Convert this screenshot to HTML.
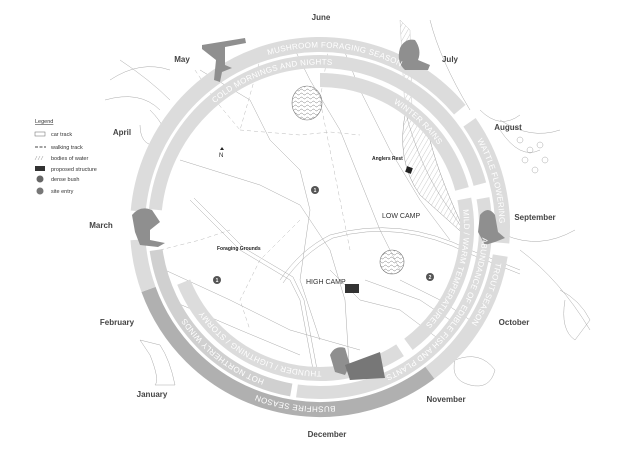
<!DOCTYPE html>
<html><head><meta charset="utf-8"><style>
html,body{margin:0;padding:0;background:#fff;}
svg{display:block;font-family:"Liberation Sans",sans-serif;}
.m{font-size:8px;fill:#444;font-weight:bold;}
.r{font-size:8px;fill:#fff;letter-spacing:0.3px;}
.lg{font-size:5.5px;fill:#333;}
.ln{fill:none;stroke:#aaa;stroke-width:0.5;}
.ds{fill:none;stroke:#bbb;stroke-width:0.5;stroke-dasharray:4 3;}
</style></head><body>
<svg id="s" width="640" height="453" viewBox="0 0 640 453">
<defs>
<pattern id="h" width="6" height="4" patternUnits="userSpaceOnUse"><path d="M0 2 Q1.5 0 3 2 T6 2" fill="none" stroke="#777" stroke-width="0.5"/></pattern>
<pattern id="d" width="4" height="4" patternUnits="userSpaceOnUse" patternTransform="rotate(30)"><line x1="0" y1="0" x2="0" y2="4" stroke="#999" stroke-width="0.5"/></pattern>
</defs>
<g>
<path class="ln" d="M180 160 L260 185 L300 205 L330 250 L345 300 L350 380"/>
<path class="ln" d="M200 70 L250 100 L270 140 L300 170 L310 210 L300 280 L320 340"/>
<path class="ln" d="M290 40 L310 80 L340 130 L360 180 L380 230 L400 270"/>
<path class="ln" d="M340 40 L360 90 L390 150 L420 200 L450 240"/>
<path class="ln" d="M165 270 L230 300 L290 330 L360 350"/>
<path class="ln" d="M170 300 L240 330 L300 355"/>
<path class="ln" d="M330 270 L360 300 L400 310 L440 340"/>
<path class="ln" d="M365 280 L420 300 L450 320"/>
<path class="ln" d="M400 280 L440 300 L470 320"/>
<path class="ln" d="M190 200 L240 250 L290 280 L300 300 L315 380"/>
<path class="ln" d="M194 198 L244 248 L293 277 L304 300 L319 380"/>
<path class="ln" d="M280 280 Q300 250 330 235 Q400 215 470 250 L520 270"/>
<path class="ln" d="M283 283 Q303 253 333 238 Q400 219 470 254 L520 274"/>
<path class="ds" d="M240 130 L300 135 L330 132 L360 135"/>
<path class="ds" d="M195 70 L215 100 L240 130 L260 60"/>
<path class="ds" d="M160 250 L200 240 L230 230"/>
<path class="ds" d="M300 220 L260 260 L240 300 L250 330"/>
<path class="ds" d="M330 40 L320 100 L330 150 L350 250"/>
<path class="ln" d="M405 110 Q420 170 450 210 L470 240"/>
<path d="M406 110 Q395 160 420 195 L468 238 Q440 180 430 140 Z" fill="url(#d)" stroke="#999" stroke-width="0.5"/>
<path d="M400 20 L410 30 L412 110 L405 110 Z" fill="url(#d)" stroke="#bbb" stroke-width="0.4"/>
<ellipse cx="307" cy="103" rx="15" ry="17" fill="url(#h)" stroke="#777" stroke-width="0.6"/>
<circle cx="392" cy="262" r="12" fill="url(#h)" stroke="#777" stroke-width="0.6"/>
<rect x="345" y="284" width="14" height="9" fill="#333"/>
<rect x="406" y="167" width="6" height="6" fill="#222" transform="rotate(20 409 170)"/>
</g>
<g fill="none" stroke="#aaa" stroke-width="0.5">
<path d="M110 80 Q140 60 170 70 M105 100 Q140 90 160 110 M120 60 Q150 80 170 100 M150 110 Q170 130 165 145 Q140 150 140 125"/>
<path d="M480 110 Q500 130 520 115 M500 120 Q530 140 560 130 M500 130 Q520 160 540 150"/>
<path d="M505 235 Q540 250 575 230 M520 250 Q560 280 590 330 M560 290 Q580 300 590 320 L575 340 Q560 330 565 300"/>
<path d="M455 360 Q480 350 495 370 Q490 390 470 385 Q450 380 455 360"/>
<path d="M140 340 L150 355 Q160 380 155 385 L175 385 Q170 360 160 345 Z"/>
<path d="M430 20 Q440 60 470 110"/>
</g>
<g fill="none" stroke="#aaa" stroke-width="0.5">
<circle cx="520" cy="140" r="3"/><circle cx="530" cy="150" r="3"/><circle cx="540" cy="145" r="3"/><circle cx="525" cy="160" r="3"/><circle cx="545" cy="160" r="3"/><circle cx="535" cy="170" r="3"/>
</g>
<g id="rings"></g>
<g fill="#8f8f8f">
<path d="M202 45 L245 38 L246 43 L225 47 L225 65 L232 68 L222 72 L220 82 L214 80 L216 60 L202 49Z"/>
<path d="M400 48 Q405 38 415 40 Q422 50 418 60 L430 65 L428 70 L405 70 Q396 62 400 48Z"/>
<path d="M132 215 Q140 205 152 210 L160 222 L150 230 L150 240 L165 243 L158 247 L140 245 L135 232Z"/>
<path d="M480 215 Q488 205 495 215 L498 232 L505 238 L495 242 L485 245 L478 232Z"/>
<path d="M330 355 Q335 345 345 348 L350 365 L345 375 L335 372Z"/>
<path d="M345 365 L380 352 L385 378 L350 380Z" fill="#777"/>
</g>
<g class="r">
<text><textPath href="#t1" startOffset="50%" text-anchor="middle">MUSHROOM FORAGING SEASON</textPath></text>
<text><textPath href="#t2" startOffset="50%" text-anchor="middle">COLD MORNINGS AND NIGHTS</textPath></text>
<text><textPath href="#t3" startOffset="50%" text-anchor="middle">WINTER RAINS</textPath></text>
<text><textPath href="#t4" startOffset="50%" text-anchor="middle">WATTLE FLOWERING</textPath></text>
<text><textPath href="#t5" startOffset="50%" text-anchor="middle">TROUT SEASON</textPath></text>
<text><textPath href="#t6" startOffset="50%" text-anchor="middle">ABUNDANCE OF EDIBLE FISH AND PLANTS</textPath></text>
<text><textPath href="#t7" startOffset="50%" text-anchor="middle">MILD / WARM TEMPERATURES</textPath></text>
<text><textPath href="#t8" startOffset="50%" text-anchor="middle">BUSHFIRE SEASON</textPath></text>
<text><textPath href="#t9" startOffset="50%" text-anchor="middle">HOT NORTHERLY WINDS</textPath></text>
<text><textPath href="#t10" startOffset="50%" text-anchor="middle">THUNDER / LIGHTNING / STORMY</textPath></text>
</g>
<g class="m" text-anchor="middle">
<text x="321" y="20">June</text><text x="450" y="62">July</text><text x="508" y="130">August</text>
<text x="535" y="220">September</text><text x="514" y="325">October</text><text x="446" y="402">November</text>
<text x="327" y="437">December</text><text x="152" y="397">January</text><text x="117" y="325">February</text>
<text x="101" y="228">March</text><text x="122" y="135">April</text><text x="182" y="62">May</text>
</g>
<g font-size="5px" fill="#222">
<text x="372" y="160" font-weight="bold">Anglers Rest</text>
<text x="217" y="250" font-weight="bold">Foraging Grounds</text>
<text x="382" y="218" font-size="7px" fill="#333">LOW CAMP</text>
<text x="306" y="284" font-size="7px" fill="#333">HIGH CAMP</text>
<text x="219" y="157" font-size="6px">N</text>
</g>
<path d="M220 150 L222 147 L224 150Z" fill="#222"/>
<g fill="#555"><circle cx="315" cy="190" r="4"/><circle cx="217" cy="280" r="4"/><circle cx="430" cy="277" r="4"/></g>
<g font-size="5px" fill="#fff" text-anchor="middle" font-weight="bold"><text x="315" y="192">1</text><text x="217" y="282">1</text><text x="430" y="279">2</text></g>
<g class="lg">
<text x="35" y="123" text-decoration="underline">Legend</text>
<rect x="35" y="132" width="10" height="4" fill="none" stroke="#666" stroke-width="0.5"/><text x="51" y="136">car track</text>
<line x1="35" y1="147" x2="46" y2="147" stroke="#444" stroke-dasharray="3 1.5"/><text x="51" y="149">walking track</text>
<path d="M35 160 L37 156 M38 160 L40 156 M41 160 L43 156" stroke="#999" stroke-width="0.5"/><text x="51" y="160">bodies of water</text>
<rect x="35" y="166" width="10" height="5" fill="#333"/><text x="51" y="171">proposed structure</text>
<circle cx="40" cy="179" r="3.5" fill="#666"/><text x="51" y="181">dense bush</text>
<circle cx="40" cy="191" r="3.5" fill="#777"/><text x="51" y="193">site entry</text>
</g>
</svg>
<script>
var cx=320,cy=227,NS="http://www.w3.org/2000/svg";
function P(r,a){a=a*Math.PI/180;return [cx+r*Math.sin(a),cy-r*Math.cos(a)];}
function arc(r,a0,a1){var p=P(r,a0),q=P(r,a1),l=(a1-a0)>180?1:0;return "M"+p[0]+" "+p[1]+" A"+r+" "+r+" 0 "+l+" 1 "+q[0]+" "+q[1];}
var g=document.getElementById("rings"),defs=document.querySelector("defs");
function seg(r,w,a0,a1,c){var e=document.createElementNS(NS,"path");e.setAttribute("d",arc(r,a0,a1));e.setAttribute("fill","none");e.setAttribute("stroke",c);e.setAttribute("stroke-width",w);g.appendChild(e);}
var L="#dcdcdc",D="#b0b0b0",M="#d0d0d0";
seg(182.5,15,275,410,L);seg(182.5,15,55,95,L);seg(182.5,15,99,143,L);seg(182.5,15,143,250,D);seg(182.5,15,250,266,L);
seg(165.5,13,276,435,L);seg(165.5,13,80,188,L);seg(165.5,13,190,262,M);
seg(147,14,0,75,L);seg(147,14,79,143,L);seg(147,14,147,248,L);
function tp(id,r,c,span){var e=document.createElementNS(NS,"path");e.id=id;e.setAttribute("d",arc(r,c-span,c+span));defs.appendChild(e);}
tp("t1",179.5,5,60);tp("t2",162.5,-18,50);tp("t3",144,43,30);tp("t4",179.5,75,30);tp("t5",179.5,112,30);
tp("t6",162.5,125,50);tp("t7",144,108,40);tp("t8",179.5,188,40);tp("t9",162.5,218,40);tp("t10",144,207,50);
</script>
</body></html>
